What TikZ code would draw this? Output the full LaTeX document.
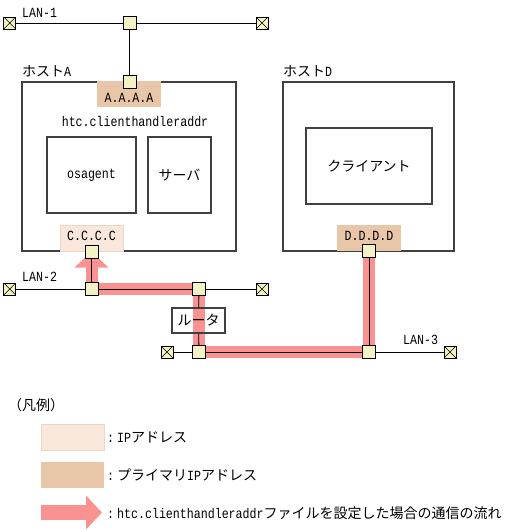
\documentclass[tikz,border=0pt]{standalone}
\usepackage{fontspec}
\setmainfont{Noto Sans CJK JP}
\newfontfamily\lat{Liberation Mono}[FakeStretch=0.83]
\usetikzlibrary{arrows.meta}

\definecolor{portyellow}{RGB}{242,242,196}
\definecolor{ipprimary}{RGB}{232,198,168}
\definecolor{iplight}{RGB}{248,231,218}
\definecolor{ipedge}{RGB}{240,214,194}
\definecolor{flowpink}{RGB}{250,146,146}
\definecolor{boxgray}{RGB}{64,64,64}

\pgfdeclarelayer{background}
\pgfsetlayers{background,main}

\begin{document}
\begin{tikzpicture}[x=1pt,y=-1pt,font=\fontsize{14}{16}\selectfont,
  port/.style={draw=black,fill=portyellow,line width=0.8pt,inner sep=0pt,minimum size=13pt},
  term/.style={port,minimum size=12pt,path picture={
    \draw[line width=0.6pt] (path picture bounding box.north west) -- (path picture bounding box.south east)
      (path picture bounding box.north east) -- (path picture bounding box.south west);}},
  hostbox/.style={draw=boxgray,line width=1.1pt,inner sep=0pt},
  addrbox/.style={fill=#1,inner sep=0pt,minimum width=64pt,minimum height=26pt,font=\fontsize{14}{16}\lat},
  txt/.style={inner sep=0pt,anchor=west},
  flow/.style={draw=flowpink,line width=12pt,line join=miter},
  wire/.style={draw=black,line width=0.8pt}]
\useasboundingbox (0,0) rectangle (512,532);

% hosts
\node[hostbox,minimum width=214pt,minimum height=169pt] (hostA) at (129,166.5) {};
\node[hostbox,minimum width=171pt,minimum height=169pt] (hostD) at (368.5,166.5) {};
\node[txt] (hostAlbl) at (22,71) {ホスト{\lat A}};
\node[txt] (hostDlbl) at (283,71) {ホスト{\lat D}};

\node[addrbox=ipprimary,text height=16pt,text depth=0pt] (addrA) at (129,94.5) {A.A.A.A};
\node[addrbox=iplight,draw=ipedge,minimum width=63pt,text depth=4pt] (addrC) at (91.5,238) {C.C.C.C};
\node[addrbox=ipprimary,text depth=4pt] (addrD) at (369,238) {D.D.D.D};

\node[inner sep=0pt] (cfg) at (135,122) {\lat htc.clienthandleraddr};
\node[hostbox,minimum width=89pt,minimum height=76pt] (osag) at (91.5,175) {\lat osagent};
\node[hostbox,minimum width=63pt,minimum height=76pt] (server) at (179.5,175) {サーバ};
\node[hostbox,minimum width=126pt,minimum height=76pt] (client) at (369,166) {クライアント};
\node[hostbox,minimum width=53pt,minimum height=25pt] (router) at (198.5,320.5) {ルータ};

% LANs
\node[term] (tL1a) at (9.7,23) {};
\node[term] (tL1b) at (262,23) {};
\node[term] (tL2a) at (9.7,289) {};
\node[term] (tL2b) at (262,289) {};
\node[term] (tL3a) at (167,352) {};
\node[term] (tL3b) at (450,352) {};
\node[port] (pL1) at (129.5,23) {};
\node[port] (pA) at (129.5,82) {};
\node[port] (pC) at (91.5,251.5) {};
\node[port] (pL2a) at (91.5,289) {};
\node[port] (pL2b) at (199,289) {};
\node[port] (pL3a) at (199,352) {};
\node[port] (pL3b) at (369,352) {};
\node[port] (pD) at (369,251) {};
\node[txt,font=\fontsize{14}{16}\lat] (lan1) at (22,13) {LAN-1};
\node[txt,font=\fontsize{14}{16}\lat] (lan2) at (22,277) {LAN-2};
\node[txt,font=\fontsize{14}{16}\lat] (lan3) at (403,340) {LAN-3};

\draw[wire] (tL1a) -- (pL1) -- (tL1b);
\draw[wire] (pL1) -- (pA);
\draw[wire] (tL2a) -- (pL2a) -- (pL2b) -- (tL2b);
\draw[wire] (pL2a) -- (pC);
\draw[wire] (pL2b) -- (router) -- (pL3a);
\draw[wire] (tL3a) -- (pL3a) -- (pL3b) -- (tL3b);
\draw[wire] (pL3b) -- (pD);

% flow
\begin{pgfonlayer}{background}
\draw[flow,-{Triangle[width=33pt,length=16pt]}] (pD.center) -- (pL3b.center) -- (pL3a.center)
  -- (pL2b.center) -- (pL2a.center) -- (pC.center);
\end{pgfonlayer}

% legend
\node[txt] (lgtitle) at (8,405) {（凡例）};
\node[addrbox=iplight,draw=ipedge,minimum width=63pt] (lgIP) at (72.5,437) {};
\node[addrbox=ipprimary,minimum width=63pt] (lgPrim) at (72.5,475) {};
\coordinate (lgA) at (41,512.5);
\coordinate (lgB) at (102,512.5);
\draw[flowpink,line width=15pt,-{Triangle[width=33pt,length=16pt]}] (lgA) -- (lgB);
\node[txt] (lgIPtxt) at (107,437) {{\lat:\hspace{3pt}IP}アドレス};
\node[txt] (lgPrimtxt) at (107,475) {{\lat:\hspace{3pt}}プライマリ{\lat IP}アドレス};
\node[txt] (lgFlowtxt) at (107,513) {{\lat:\hspace{3pt}htc.clienthandleraddr}ファイルを設定した場合の通信の流れ};
\end{tikzpicture}
\end{document}
